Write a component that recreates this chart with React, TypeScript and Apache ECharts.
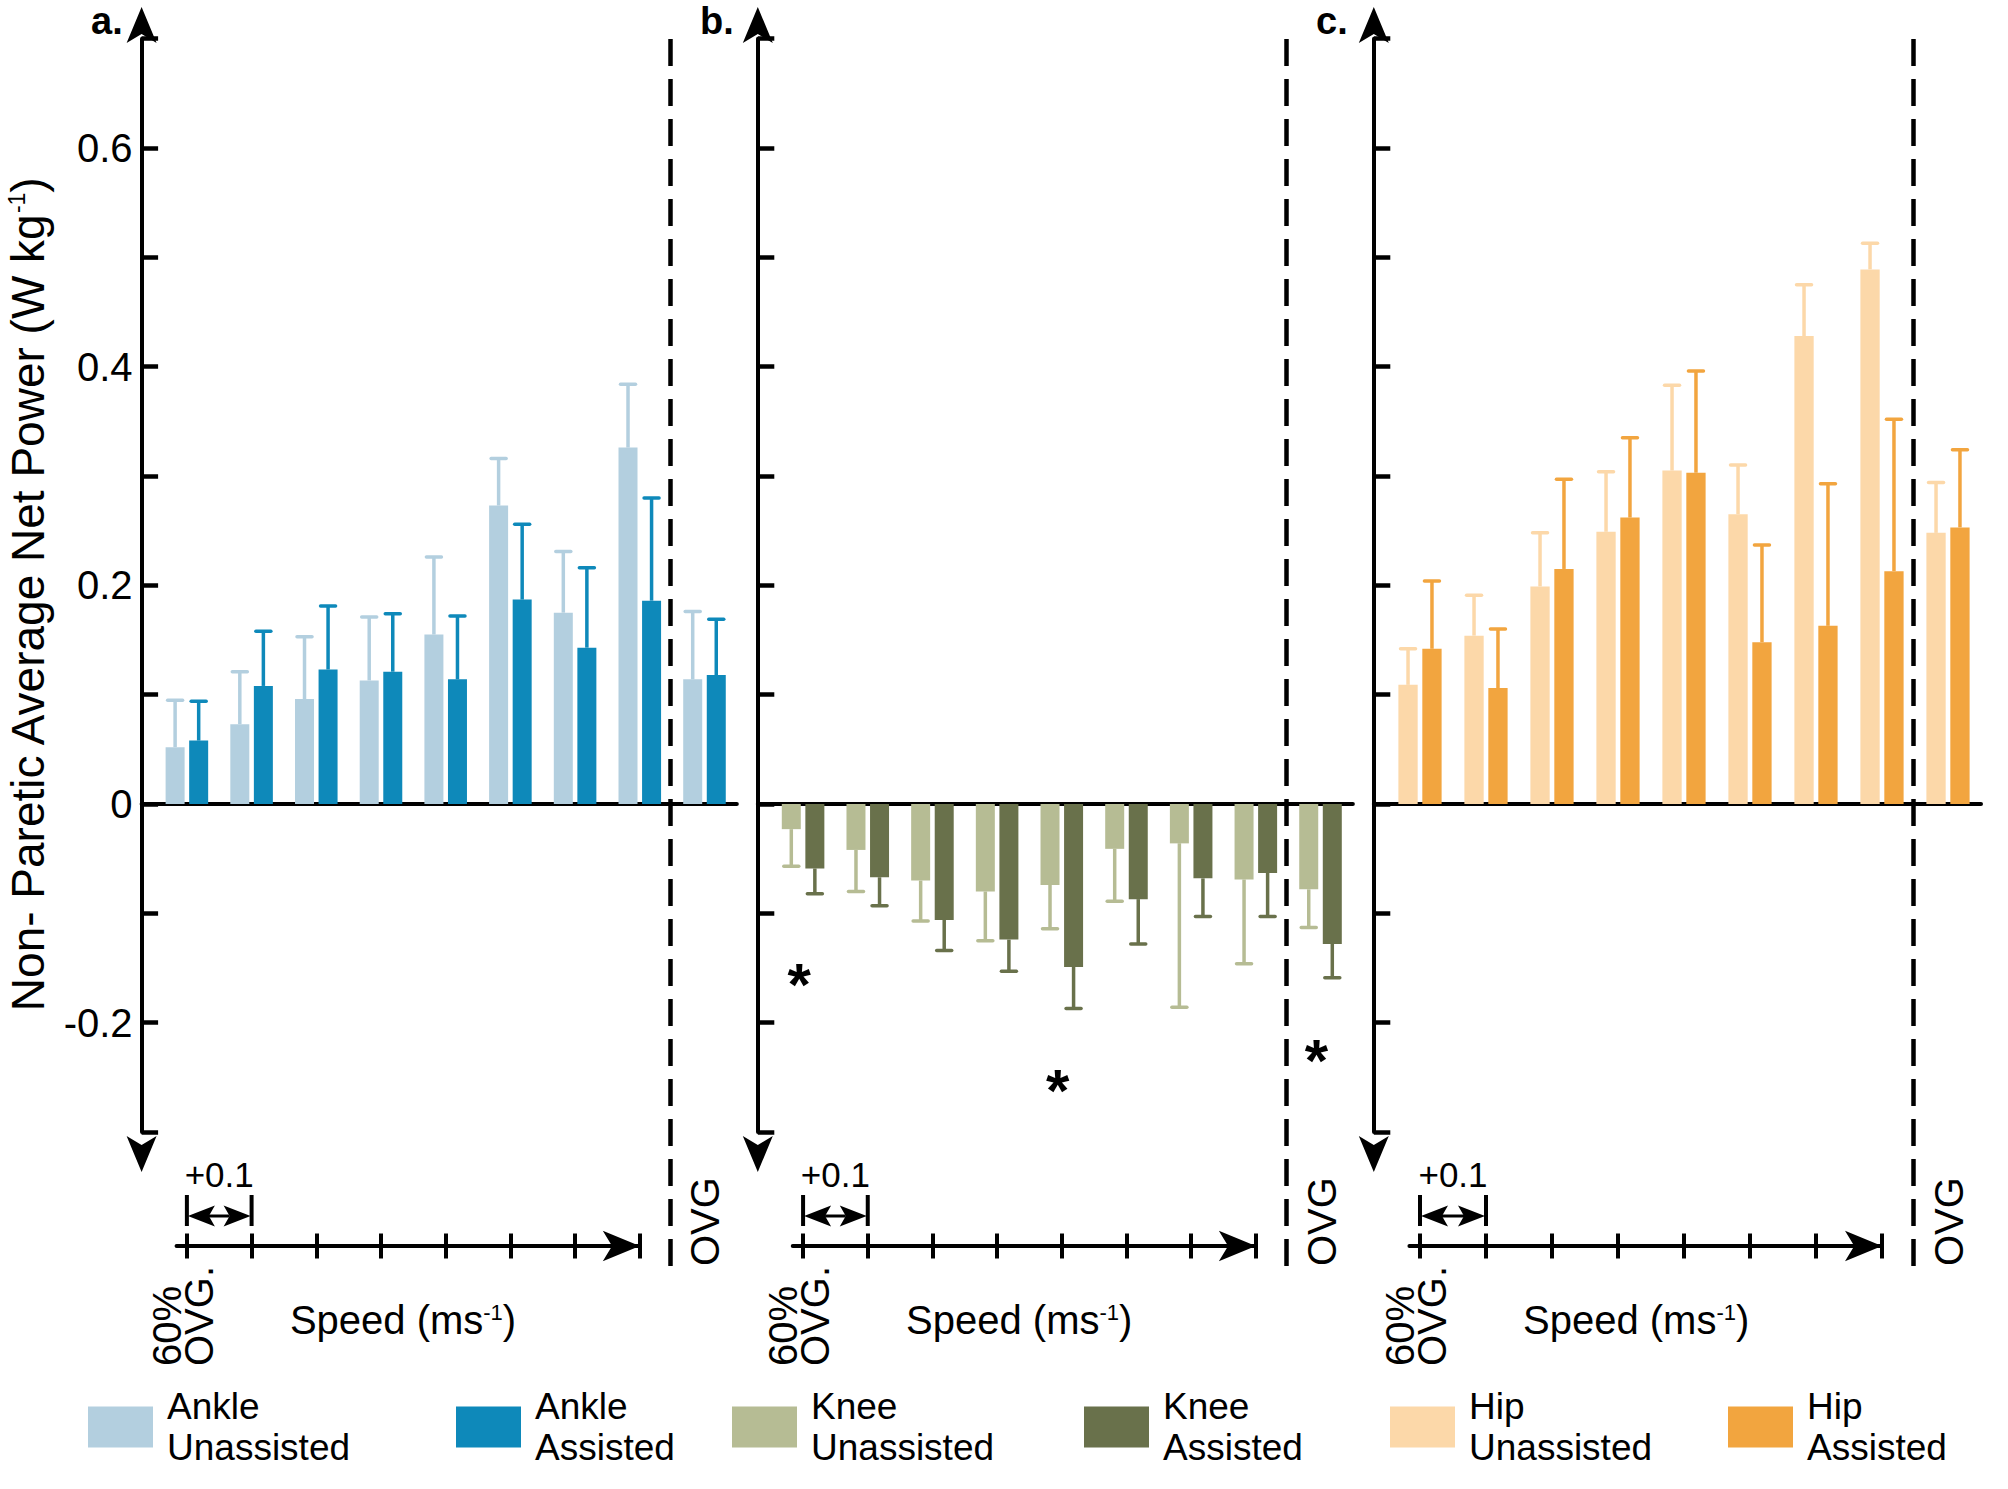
import React, { useEffect, useRef } from 'react';
import * as echarts from 'echarts';

const FONT = '"Liberation Sans", Arial, Helvetica, sans-serif';

// Conditions: 60% of overground speed (OVG) in +0.1 m/s steps, then OVG
const speedSteps = ['60% OVG', '+0.1', '+0.2', '+0.3', '+0.4', '+0.5', '+0.6', '+0.7', 'OVG'];
const stepIndex = speedSteps.map((_, i) => i);
const speedTickValues = [0, 1, 2, 3, 4, 5, 6, 7];

// a. Ankle (mean and mean+SD)
const ankleUnassisted = [0.052, 0.073, 0.096, 0.113, 0.155, 0.273, 0.175, 0.326, 0.114];
const ankleUnassistedErr = [0.095, 0.121, 0.153, 0.171, 0.226, 0.316, 0.231, 0.384, 0.176];
const ankleAssisted = [0.058, 0.108, 0.123, 0.121, 0.114, 0.187, 0.143, 0.186, 0.118];
const ankleAssistedErr = [0.094, 0.158, 0.181, 0.174, 0.172, 0.256, 0.216, 0.28, 0.169];

// b. Knee
const kneeUnassisted = [-0.023, -0.042, -0.07, -0.08, -0.074, -0.041, -0.036, -0.069, -0.078];
const kneeUnassistedErr = [-0.057, -0.08, -0.107, -0.125, -0.114, -0.089, -0.186, -0.146, -0.113];
const kneeAssisted = [-0.059, -0.067, -0.106, -0.124, -0.149, -0.087, -0.068, -0.063, -0.128];
const kneeAssistedErr = [-0.082, -0.093, -0.134, -0.153, -0.187, -0.128, -0.103, -0.103, -0.159];
const kneeStarIndex = [0, 4, 8];
const kneeStarLevel = [-0.153, -0.25, -0.223];

// c. Hip
const hipUnassisted = [0.109, 0.154, 0.199, 0.249, 0.305, 0.265, 0.428, 0.489, 0.248];
const hipUnassistedErr = [0.142, 0.191, 0.248, 0.304, 0.383, 0.31, 0.475, 0.513, 0.294];
const hipAssisted = [0.142, 0.106, 0.215, 0.262, 0.303, 0.148, 0.163, 0.213, 0.253];
const hipAssistedErr = [0.204, 0.16, 0.297, 0.335, 0.396, 0.237, 0.293, 0.352, 0.324];

const seriesNames = [
  'Ankle Unassisted', 'Ankle Assisted',
  'Knee Unassisted', 'Knee Assisted',
  'Hip Unassisted', 'Hip Assisted',
];
const barColors = ['#B3CFDF', '#0E89BA', '#B6BC94', '#69714B', '#FCD8A9', '#F2A53F'];

const Y_MIN = -0.3;
const Y_MAX = 0.7;
const Y_STEP = 0.1;
const X_MIN = -0.7;
const X_MAX = 8.5;
const OVG_DIVIDER = 7.47;
const SPEED_MIN = -0.16;
const SPEED_MAX = 7;

// layout
const panelLeft = [141.6, 757.8, 1373.8];
const panelUnit = [64.7, 64.68, 66.0];
const panelBarWidth = [19, 19, 19.3];
const panelLetterLeft = [91, 700, 1316];
const panelLetters = ['a.', 'b.', 'c.'];
const legendLeft = [88, 456, 732, 1084, 1390, 1728];

const panelData = [
  [ankleUnassisted, ankleUnassistedErr, ankleAssisted, ankleAssistedErr],
  [kneeUnassisted, kneeUnassistedErr, kneeAssisted, kneeAssistedErr],
  [hipUnassisted, hipUnassistedErr, hipAssisted, hipAssistedErr],
];

function makeErrorRender(offset: number, color: string) {
  return (_params: any, api: any) => {
    const x = api.value(0);
    const base = api.coord([x, api.value(1)]);
    const end = api.coord([x, api.value(2)]);
    const cx = base[0] + offset;
    return {
      type: 'group',
      children: [
        { type: 'line', shape: { x1: cx, y1: base[1], x2: cx, y2: end[1] }, style: { stroke: color, lineWidth: 3.5 } },
        { type: 'line', shape: { x1: cx - 7.5, y1: end[1], x2: cx + 7.5, y2: end[1] }, style: { stroke: color, lineWidth: 3.5, lineCap: 'round' } },
      ],
    };
  };
}

function makeSpeedRender() {
  return (_params: any, api: any) => {
    const a = api.coord([api.value(0), 0]);
    const b = api.coord([api.value(1), 0]);
    const o = api.coord([api.value(2), 0]);
    const y = a[1];
    const ay = y - 30;
    const L = 27;
    const H = 10.5;
    const N = 6;
    const ax = a[0] + 1;
    const bx = b[0] - 1;
    return {
      type: 'group',
      children: [
        { type: 'line', shape: { x1: a[0], y1: y - 51, x2: a[0], y2: y - 20 }, style: { stroke: '#000', lineWidth: 4 } },
        { type: 'line', shape: { x1: b[0], y1: y - 51, x2: b[0], y2: y - 20 }, style: { stroke: '#000', lineWidth: 4 } },
        { type: 'line', shape: { x1: ax + L - N, y1: ay, x2: bx - L + N, y2: ay }, style: { stroke: '#000', lineWidth: 3 } },
        { type: 'polygon', shape: { points: [[ax, ay], [ax + L, ay - H], [ax + L - N, ay], [ax + L, ay + H]] }, style: { fill: '#000' } },
        { type: 'polygon', shape: { points: [[bx, ay], [bx - L, ay - H], [bx - L + N, ay], [bx - L, ay + H]] }, style: { fill: '#000' } },
        {
          type: 'text',
          style: { text: '+0.1', x: (a[0] + b[0]) / 2, y: y - 72, align: 'center', verticalAlign: 'middle', fontSize: 35, fontFamily: FONT, fill: '#000' },
        },
        {
          type: 'text', x: a[0] - 4, y: y + 120, rotation: Math.PI / 2,
          style: { text: '60%\nOVG.', x: 0, y: 0, align: 'left', verticalAlign: 'middle', fontSize: 40, lineHeight: 32, fontFamily: FONT, fill: '#000' },
        },
        {
          type: 'text',
          style: {
            text: '{m|Speed (ms}{s|-1}{m|)}', x: a[0] + 103, y: y + 74, align: 'left', verticalAlign: 'middle',
            rich: {
              m: { fontSize: 40, fontFamily: FONT, fill: '#000', color: '#000' },
              s: { fontSize: 22, fontFamily: FONT, fill: '#000', color: '#000', padding: [0, 0, 16, 0] },
            },
          },
        },
        {
          type: 'text', x: o[0] + 1, y: y + 20, rotation: Math.PI / 2,
          style: { text: 'OVG', x: 0, y: 0, align: 'left', verticalAlign: 'middle', fontSize: 40, fontFamily: FONT, fill: '#000' },
        },
      ],
    };
  };
}

function yLabel(v: number) {
  const k = Math.round(v * 10);
  if (k % 2 !== 0) return '';
  if (k === 0) return '0';
  return (k / 10).toFixed(1);
}

function buildOption() {
  const grid: any[] = [];
  const xAxis: any[] = [];
  const yAxis: any[] = [];
  const series: any[] = [];
  const legend: any[] = [];
  const graphic: any[] = [];
  const black = '#000';

  panelData.forEach((d, pi) => {
    const left = panelLeft[pi];
    const unit = panelUnit[pi];
    const bw = panelBarWidth[pi];
    const gw = (X_MAX - X_MIN) * unit;

    const gBar = grid.length;
    grid.push({ left, top: 38.7, width: gw, height: 1093.3, outerBoundsMode: 'none', containLabel: false });
    const gDash = grid.length;
    grid.push({ left, top: 39, width: gw, height: 1227, outerBoundsMode: 'none', containLabel: false });
    const gSpeed = grid.length;
    grid.push({
      left: left + (SPEED_MIN - X_MIN) * unit, top: 1245, width: (SPEED_MAX - SPEED_MIN) * unit, height: 1,
      outerBoundsMode: 'none', containLabel: false,
    });

    const xBar = xAxis.length;
    xAxis.push({
      type: 'value', gridIndex: gBar, min: X_MIN, max: X_MAX,
      axisLine: { show: true, onZero: true, lineStyle: { color: black, width: 4 } },
      axisTick: { show: false }, axisLabel: { show: false }, splitLine: { show: false },
    });
    const yBar = yAxis.length;
    yAxis.push({
      type: 'value', gridIndex: gBar, min: Y_MIN, max: Y_MAX, interval: Y_STEP,
      axisLine: {
        show: true, onZero: false, lineStyle: { color: black, width: 4 },
        symbol: ['arrow', 'arrow'], symbolSize: [22.5, 36], symbolOffset: [-40, 31.7],
      },
      axisTick: { show: true, inside: true, length: 16.5, lineStyle: { color: black, width: 4.5 } },
      axisLabel: {
        show: pi === 0, formatter: yLabel, fontSize: 40, color: black, fontFamily: FONT, margin: 9,
        showMinLabel: true, showMaxLabel: true,
      },
      splitLine: { show: false },
      name: pi === 0 ? '{n|Non- Paretic Average Net Power (W kg}{s|-1}{n|)}' : '',
      nameLocation: 'middle', nameRotate: 90, nameGap: 91, nameMoveOverlap: false,
      nameTextStyle: {
        fontSize: 46, color: black, fontFamily: FONT, padding: [0, 19, 0, 0],
        rich: {
          n: { fontSize: 46, color: black, fontFamily: FONT },
          s: { fontSize: 23, color: black, fontFamily: FONT, padding: [0, 0, 22, 0] },
        },
      },
    });

    const xDash = xAxis.length;
    xAxis.push({ type: 'value', gridIndex: gDash, min: X_MIN, max: X_MAX, show: false });
    const yDash = yAxis.length;
    yAxis.push({ type: 'value', gridIndex: gDash, min: 0, max: 1, show: false });

    const xSpeed = xAxis.length;
    xAxis.push({
      type: 'value', gridIndex: gSpeed, position: 'bottom', min: SPEED_MIN, max: SPEED_MAX,
      axisLine: {
        show: true, onZero: false, lineStyle: { color: black, width: 4 },
        symbol: ['none', 'arrow'], symbolSize: [23, 37], symbolOffset: [0, 0],
      },
      axisTick: { show: true, customValues: speedTickValues, length: 12.5, lineStyle: { color: black, width: 4 } },
      axisLabel: { show: false }, splitLine: { show: false },
    });
    xAxis.push({
      type: 'value', gridIndex: gSpeed, position: 'bottom', min: SPEED_MIN, max: SPEED_MAX,
      axisLine: { show: false, onZero: false },
      axisTick: { show: true, inside: true, customValues: speedTickValues, length: 12.5, lineStyle: { color: black, width: 4 } },
      axisLabel: { show: false }, splitLine: { show: false },
    });
    const ySpeed = yAxis.length;
    yAxis.push({ type: 'value', gridIndex: gSpeed, min: 0, max: 1, show: false });

    const offset = bw * 0.62;
    const colU = barColors[pi * 2];
    const colA = barColors[pi * 2 + 1];

    series.push({
      type: 'bar', name: seriesNames[pi * 2], xAxisIndex: xBar, yAxisIndex: yBar,
      data: stepIndex.map((i) => [i, d[0][i]]), barWidth: bw, barGap: '24%',
      itemStyle: { color: colU }, z: 3, silent: true,
    });
    series.push({
      type: 'bar', name: seriesNames[pi * 2 + 1], xAxisIndex: xBar, yAxisIndex: yBar,
      data: stepIndex.map((i) => [i, d[2][i]]), barWidth: bw, barGap: '24%',
      itemStyle: { color: colA }, z: 3, silent: true,
    });
    series.push({
      type: 'custom', xAxisIndex: xBar, yAxisIndex: yBar, silent: true, z: 2,
      dimensions: ['x', 'v', 'e'], encode: { x: 0, y: [1, 2] },
      data: stepIndex.map((i) => [i, d[0][i], d[1][i]]), renderItem: makeErrorRender(-offset, colU),
    });
    series.push({
      type: 'custom', xAxisIndex: xBar, yAxisIndex: yBar, silent: true, z: 2,
      dimensions: ['x', 'v', 'e'], encode: { x: 0, y: [1, 2] },
      data: stepIndex.map((i) => [i, d[2][i], d[3][i]]), renderItem: makeErrorRender(offset, colA),
    });

    // OVG divider
    series.push({
      type: 'line', xAxisIndex: xDash, yAxisIndex: yDash, data: [[X_MIN, 0]], symbol: 'none', showSymbol: false,
      lineStyle: { opacity: 0 }, silent: true,
      markLine: {
        silent: true, symbol: ['none', 'none'], animation: false,
        label: { show: false },
        lineStyle: { color: black, width: 4.5, type: [27, 13] },
        data: [{ xAxis: OVG_DIVIDER }],
      },
    });

    // speed scale annotations
    series.push({
      type: 'custom', xAxisIndex: xSpeed, yAxisIndex: ySpeed, silent: true, clip: false, z: 5,
      data: [[0, 1, 8]], renderItem: makeSpeedRender(),
    });

    if (pi === 1) {
      series.push({
        type: 'scatter', xAxisIndex: xBar, yAxisIndex: yBar, silent: true, z: 6,
        data: kneeStarIndex.map((i, k) => [i, kneeStarLevel[k]]),
        symbolSize: 1, itemStyle: { color: 'rgba(255,255,255,0)' },
        label: {
          show: true, position: 'inside', formatter: '*', fontSize: 60, fontWeight: 'bold',
          color: black, fontFamily: FONT, offset: [-4, 13], opacity: 1,
        },
      });
    }

    graphic.push({
      type: 'text', left: panelLetterLeft[pi], top: 2,
      style: { text: panelLetters[pi], fontSize: 38, fontWeight: 'bold', fontFamily: FONT, fill: black },
    });
  });

  seriesNames.forEach((name, k) => {
    legend.push({
      data: [name], left: legendLeft[k], top: 1386, padding: 0, orient: 'horizontal',
      itemWidth: 65, itemHeight: 41, icon: 'rect', selectedMode: false,
      formatter: (n: string) => n.replace(' ', '\n'),
      textStyle: { fontSize: 37, lineHeight: 41, color: black, fontFamily: FONT, padding: [0, 0, 0, 9] },
    });
  });

  return {
    animation: false,
    backgroundColor: '#ffffff',
    textStyle: { fontFamily: FONT },
    grid, xAxis, yAxis, series, legend, graphic,
  };
}

export default function App() {
  const ref = useRef<HTMLDivElement>(null);
  useEffect(() => {
    if (!ref.current) return;
    const chart = echarts.init(ref.current, undefined, { renderer: 'svg' });
    chart.setOption(buildOption() as any);
    return () => chart.dispose();
  }, []);
  return (
    <div
      ref={ref}
      style={{ position: 'absolute', left: 0, top: 0, width: 2008, height: 1489, background: '#fff' }}
    />
  );
}
